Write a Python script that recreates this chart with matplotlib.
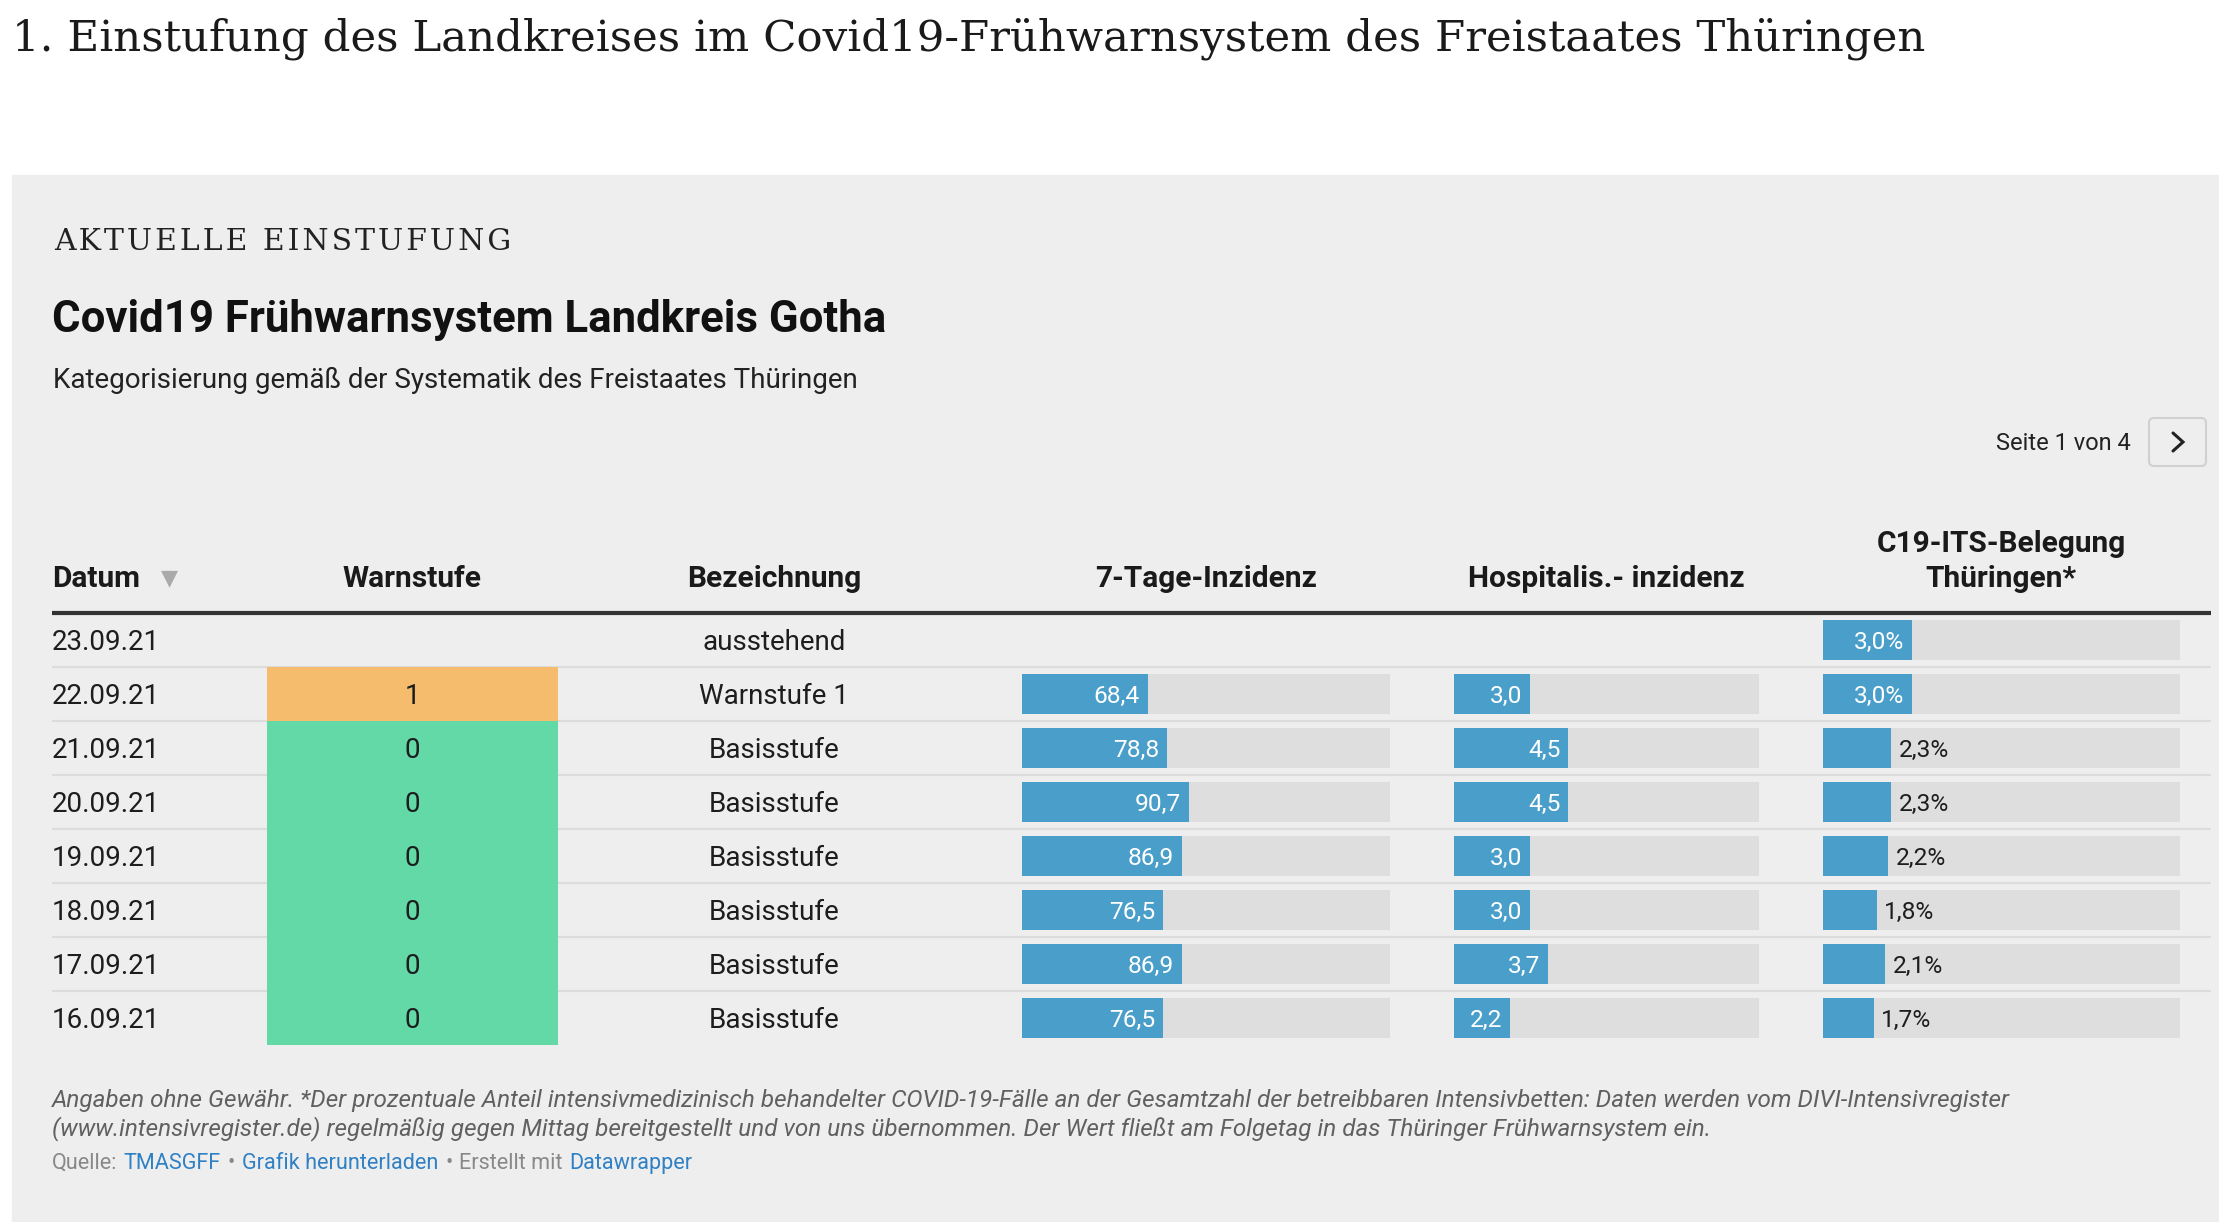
import numpy as np
import matplotlib
matplotlib.use('Agg')
import matplotlib.pyplot as plt
from matplotlib.patches import Rectangle, FancyBboxPatch
from matplotlib.textpath import TextPath
from matplotlib.font_manager import FontProperties

# Daten der Tabelle (Seite 1 von 4)
datum = ['23.09.21', '22.09.21', '21.09.21', '20.09.21',
         '19.09.21', '18.09.21', '17.09.21', '16.09.21']
warnstufe = [None, 1, 0, 0, 0, 0, 0, 0]
bezeichnung = ['ausstehend', 'Warnstufe 1', 'Basisstufe', 'Basisstufe',
               'Basisstufe', 'Basisstufe', 'Basisstufe', 'Basisstufe']
inzidenz_7t = [np.nan, 68.4, 78.8, 90.7, 86.9, 76.5, 86.9, 76.5]
hosp_inzidenz = [np.nan, 3.0, 4.5, 4.5, 3.0, 3.0, 3.7, 2.2]
its_belegung = [3.0, 3.0, 2.3, 2.3, 2.2, 1.8, 2.1, 1.7]

spalten = ['Datum', 'Warnstufe', 'Bezeichnung', '7-Tage-Inzidenz',
           'Hospitalis.- inzidenz', 'C19-ITS-Belegung\nThüringen*']

# Farben
PANEL = '#eeeeee'
BLAU = '#4a9fca'
BALKEN_BG = '#dedede'
LINIE = '#dcdcdc'
TEXT = '#1d1d1d'
stufen_farbe = {0: '#63d9a8', 1: '#f4bc6c'}
LINK = '#2f80c4'

W, H = 2219, 1222
fig = plt.figure(figsize=(W / 100, H / 100), dpi=100)
fig.patch.set_facecolor('white')
ax = fig.add_axes([0, 0, 1, 1])
ax.set_xlim(0, W)
ax.set_ylim(H, 0)
ax.axis('off')


def px_axes(x0, y0, x1, y1):
    a = fig.add_axes([x0 / W, 1 - y1 / H, (x1 - x0) / W, (y1 - y0) / H])
    a.axis('off')
    return a


def de(v, suffix=''):
    return f'{v:.1f}'.replace('.', ',') + suffix


# Überschrift der Seite
ax.text(12, 50, '1. Einstufung des Landkreises im Covid19-Frühwarnsystem des Freistaates Thüringen',
        family='DejaVu Serif', fontsize=31.3, color='#1a1a1a', va='baseline')

# grauer Kasten
ax.add_patch(Rectangle((12, 175), W - 12, H - 175, color=PANEL, zorder=0))

ax.text(54, 250, '\u200a'.join('AKTUELLE EINSTUFUNG'), family='DejaVu Serif',
        fontsize=21.5, color='#222222', va='baseline')
ax.text(52, 332, 'Covid19 Frühwarnsystem Landkreis Gotha', family='Roboto',
        fontweight='bold', fontsize=31.5, color='#111111', va='baseline')
ax.text(53, 388, 'Kategorisierung gemäß der Systematik des Freistaates Thüringen',
        family='Roboto', fontsize=20, color='#222222', va='baseline')

# Seitenumschalter
ax.text(2131, 450, 'Seite 1 von 4', family='Roboto', fontsize=17,
        color='#222222', ha='right', va='baseline')
ax.add_patch(FancyBboxPatch((2149, 418), 57, 48, boxstyle='round,pad=0,rounding_size=5',
                            fc=PANEL, ec='#d0d0d0', lw=1.5))
ax.plot([2173, 2183, 2173], [433, 442, 451], color='#222222', lw=2.2,
        solid_capstyle='round', solid_joinstyle='miter')

# Tabellenkopf
kopf_x = [52, 412, 774, 1206, 1606, 2001]
kopf_kw = dict(family='Roboto', fontweight='bold', fontsize=21.5, color='#1a1a1a', va='baseline')
ax.text(kopf_x[0], 587, spalten[0], ha='left', **kopf_kw)
ax.text(161, 584, '▼', family='DejaVu Sans', fontsize=16, color='#aaaaaa', va='baseline')
for x, name in zip(kopf_x[1:], spalten[1:]):
    zeilen = name.split('\n')
    for k, z in enumerate(zeilen):
        ax.text(x, 587 - 35 * (len(zeilen) - 1 - k), z, ha='center', **kopf_kw)

ax.plot([52, 2211], [613, 613], color='#333333', lw=3, solid_capstyle='butt')

# Zeilen
n = len(datum)
top, pitch = 613, 54
mitte = [top + pitch / 2 + pitch * i for i in range(n)]
ax.hlines([top + pitch * (i + 1) for i in range(n - 1)], 52, 2211, color=LINIE, lw=1.6, zorder=1)

zell_kw = dict(family='Roboto', fontsize=20, color=TEXT, va='baseline')
for i in range(n):
    ax.text(52, mitte[i] + 10, datum[i], ha='left', **zell_kw)
    ax.text(774, mitte[i] + 10, bezeichnung[i], ha='center', **zell_kw)

# Warnstufe als farbige Zellen
ax_w = px_axes(267, top, 558, top + pitch * n)
ax_w.set_xlim(0, 1)
ax_w.set_ylim(n - 0.5, -0.5)
for i, s in enumerate(warnstufe):
    if s is None:
        continue
    ax_w.barh(i, 1, height=1.0, left=0, color=stufen_farbe[s], lw=0)
    ax_w.annotate(str(s), xy=(0.5, i), xytext=(0, -10), textcoords='offset pixels',
                  ha='center', va='baseline', **{k: v for k, v in zell_kw.items() if k != 'va'})

# Balkenspalten
LABEL_PX = 24.5
label_font = FontProperties(family='Roboto')


def balken(x0, x1, werte, domain, suffix=''):
    a = px_axes(x0, top, x1, top + pitch * n)
    a.set_xlim(0, domain)
    a.set_ylim(n - 0.5, -0.5)
    breite_px = x1 - x0
    for i, v in enumerate(werte):
        if np.isnan(v):
            continue
        a.barh(i, domain, height=40 / pitch, color=BALKEN_BG, lw=0)
        a.barh(i, v, height=40 / pitch, color=BLAU, lw=0)
        lbl = de(v, suffix)
        tw = TextPath((0, 0), lbl, size=LABEL_PX, prop=label_font).get_extents().width
        if v / domain * breite_px >= tw + 24:
            a.annotate(lbl, xy=(v, i), xytext=(-8, -8.5), textcoords='offset pixels',
                       ha='right', va='baseline', color='white', family='Roboto',
                       fontsize=LABEL_PX * 0.72)
        else:
            a.annotate(lbl, xy=(v, i), xytext=(7, -8.5), textcoords='offset pixels',
                       ha='left', va='baseline', color=TEXT, family='Roboto',
                       fontsize=LABEL_PX * 0.72)
    return a


balken(1022, 1390, inzidenz_7t, 200)
balken(1454, 1759, hosp_inzidenz, 12)
balken(1823, 2180, its_belegung, 12, '%')

# Fußnote
fuss_kw = dict(family='Roboto', style='italic', fontsize=17.45, color='#606060', va='baseline')
ax.text(52, 1107, 'Angaben ohne Gewähr. *Der prozentuale Anteil intensivmedizinisch behandelter '
        'COVID-19-Fälle an der Gesamtzahl der betreibbaren Intensivbetten: Daten werden vom '
        'DIVI-Intensivregister', **fuss_kw)
ax.text(52, 1135, '(www.intensivregister.de) regelmäßig gegen Mittag bereitgestellt und von uns '
        'übernommen. Der Wert fließt am Folgetag in das Thüringer Frühwarnsystem ein.', **fuss_kw)

teile = [('Quelle:', '#888888', 0), ('TMASGFF', LINK, 6), ('•', '#888888', 7),
         ('Grafik herunterladen', LINK, 7), ('•', '#888888', 7), ('Erstellt mit', '#888888', 7),
         ('Datawrapper', LINK, 6)]
t = ax.text(52, 1169, teile[0][0], family='Roboto', fontsize=15.6, color=teile[0][1], va='baseline')
for s, c, gap in teile[1:]:
    t = ax.annotate(s, xy=(1, 0), xycoords=t, xytext=(gap, 0), textcoords='offset pixels',
                    family='Roboto', fontsize=15.6, color=c, va='bottom', ha='left')

fig.savefig('out.png', dpi=100, facecolor=fig.get_facecolor())
